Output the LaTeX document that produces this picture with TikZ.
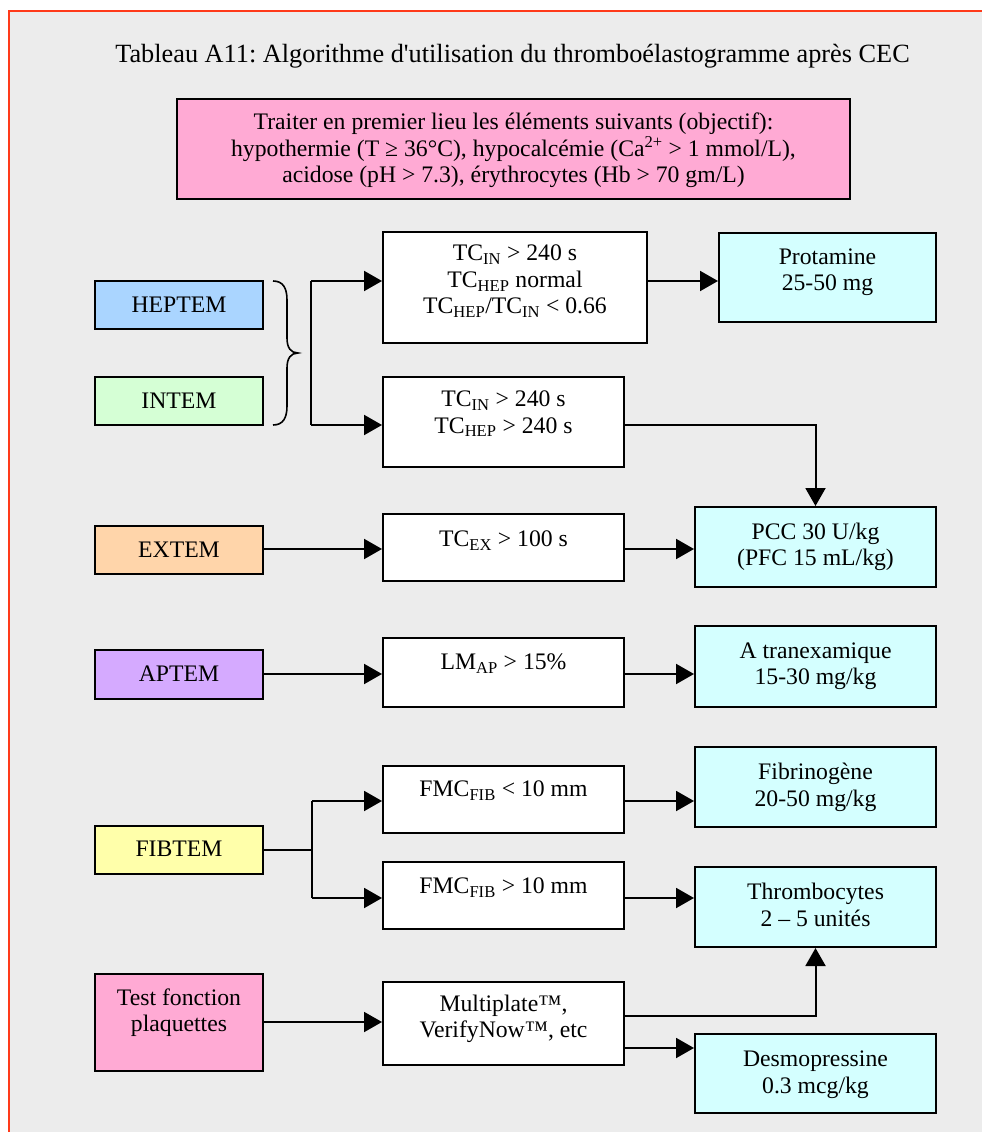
\documentclass[tikz,border=0pt]{standalone}
\usepackage{fontspec}
\setmainfont{Liberation Serif}
\usetikzlibrary{arrows.meta}
\definecolor{bggray}{HTML}{ECECEC}
\definecolor{framered}{HTML}{FF3A1A}
\definecolor{pinkbox}{HTML}{FFAAD4}
\definecolor{hepblue}{HTML}{AAD5FF}
\definecolor{intgreen}{HTML}{D5FFD5}
\definecolor{extorange}{HTML}{FFD5AA}
\definecolor{aptpurple}{HTML}{D5AAFF}
\definecolor{fibyellow}{HTML}{FFFFAA}
\definecolor{rescyan}{HTML}{D4FFFF}
\frenchspacing
\begin{document}
\begin{tikzpicture}[x=1pt,y=-1pt,
  box/.style={draw=black, line width=2pt, inner sep=0pt, rectangle},
  txt/.style={font=\fontsize{23.7}{26.5}\selectfont, align=center, inner sep=0pt,
    execute at begin node=\strut, execute at end node=\strut},
  ttl/.style={font=\fontsize{26.3}{29}\selectfont, align=center, inner sep=0pt,
    execute at begin node=\strut, execute at end node=\strut},
  conn/.style={line width=2pt},
  arr/.style={line width=2pt, -{Triangle[length=18pt,width=20pt]}}]
\useasboundingbox (0,0) rectangle (982,1132);
\fill[white] (0,0) rectangle (982,1132);
\fill[bggray] (9,11) rectangle (982,1132);
\draw[framered, line width=2pt] (9,1132) -- (9,11) -- (982,11);

% title
\node[ttl] (title) at (512.5,57) {Tableau A11: Algorithme d\textquotesingle utilisation du thromboélastogramme après CEC};

% top pink box
\node[box, fill=pinkbox, minimum width=673pt, minimum height=100pt] (pre) at (513.5,149) {};
\node[txt] (pret) at (513.5,152) {Traiter en premier lieu les éléments suivants (objectif):\\hypothermie (T ≥ 36°C), hypocalcémie (Ca\textsuperscript{2+} > 1 mmol/L),\\acidose (pH > 7.3), érythrocytes (Hb > 70 gm/L)};

% left test boxes
\node[box, fill=hepblue, minimum width=168pt, minimum height=48pt] (hep) at (179,305) {};
\node[txt] (hept) at (179,307.5) {HEPTEM};
\node[box, fill=intgreen, minimum width=168pt, minimum height=48pt] (int) at (179,401) {};
\node[txt] (intt) at (179,403.5) {INTEM};
\node[box, fill=extorange, minimum width=168pt, minimum height=48pt] (ext) at (179,550) {};
\node[txt] (extt) at (179,552) {EXTEM};
\node[box, fill=aptpurple, minimum width=168pt, minimum height=49pt] (apt) at (179,674.5) {};
\node[txt] (aptt) at (179,676) {APTEM};
\node[box, fill=fibyellow, minimum width=168pt, minimum height=48pt] (fib) at (179,850) {};
\node[txt] (fibt) at (179,851.5) {FIBTEM};
\node[box, fill=pinkbox, minimum width=168pt, minimum height=97pt] (tst) at (179,1022.5) {};
\node[txt] (tstt) at (179,1014) {Test fonction\\plaquettes};

% brace
\draw[line width=1.6pt] (273,281) .. controls (283,281) and (287,288) .. (287,300) -- (287,338)
  .. controls (287,348) and (291,353) .. (298,353)
  .. controls (291,353) and (287,358) .. (287,368) -- (287,406)
  .. controls (287,418) and (283,425) .. (273,425);

% condition boxes
\node[box, fill=white, minimum width=264pt, minimum height=111pt] (c1) at (515,287.5) {};
\node[txt] (c1t) at (515,283.5) {TC\textsubscript{IN} > 240 s\\TC\textsubscript{HEP} normal\\TC\textsubscript{HEP}/TC\textsubscript{IN} < 0.66};
\node[box, fill=white, minimum width=241pt, minimum height=90pt] (c2) at (503.5,422) {};
\node[txt] (c2t) at (503.5,416) {TC\textsubscript{IN} > 240 s\\TC\textsubscript{HEP} > 240 s};
\node[box, fill=white, minimum width=241pt, minimum height=67pt] (cex) at (503.5,547.5) {};
\node[txt] (cext) at (503.5,541) {TC\textsubscript{EX} > 100 s};
\node[box, fill=white, minimum width=241pt, minimum height=69pt] (clm) at (503.5,672.5) {};
\node[txt] (clmt) at (503.5,664) {LM\textsubscript{AP} > 15\%};
\node[box, fill=white, minimum width=241pt, minimum height=67pt] (cf1) at (503.5,799.5) {};
\node[txt] (cf1t) at (503.5,791.5) {FMC\textsubscript{FIB} < 10 mm};
\node[box, fill=white, minimum width=241pt, minimum height=67pt] (cf2) at (503.5,895.5) {};
\node[txt] (cf2t) at (503.5,888.5) {FMC\textsubscript{FIB} > 10 mm};
\node[box, fill=white, minimum width=241pt, minimum height=83pt] (cmp) at (503.5,1023.5) {};
\node[txt] (cmpt) at (503.5,1020) {Multiplate™,\\VerifyNow™, etc};

% result boxes
\node[box, fill=rescyan, minimum width=217pt, minimum height=89pt] (prot) at (827.5,277.5) {};
\node[txt] (prott) at (827.5,273.5) {Protamine\\25-50 mg};
\node[box, fill=rescyan, minimum width=241pt, minimum height=80pt] (pcc) at (815.5,547) {};
\node[txt] (pcct) at (815.5,548) {PCC 30 U/kg\\(PFC 15 mL/kg)};
\node[box, fill=rescyan, minimum width=241pt, minimum height=81pt] (atr) at (815.5,666.5) {};
\node[txt] (atrt) at (815.5,667.5) {A tranexamique\\15-30 mg/kg};
\node[box, fill=rescyan, minimum width=241pt, minimum height=80pt] (fbg) at (815.5,787) {};
\node[txt] (fbgt) at (815.5,788.5) {Fibrinogène\\20-50 mg/kg};
\node[box, fill=rescyan, minimum width=241pt, minimum height=80pt] (thr) at (815.5,907) {};
\node[txt] (thrt) at (815.5,908.5) {Thrombocytes\\2 – 5 unités};
\node[box, fill=rescyan, minimum width=241pt, minimum height=79pt] (dsm) at (815.5,1073.5) {};
\node[txt] (dsmt) at (815.5,1076) {Desmopressine\\0.3 mcg/kg};

% junction coordinates
\coordinate (j1) at (311,281);
\coordinate (j2) at (311,425);
\coordinate (j3) at (312,801);
\coordinate (j4) at (312,898);
\coordinate (j5) at (312,850);

% connectors
\draw[conn] (j1) -- (j2);
\draw[arr] (j1) -- (c1.west |- j1);
\draw[arr] (j2) -- (c2.west |- j2);
\draw[arr] (c1.east |- j1) -- (prot.west |- j1);
\draw[arr] (c2.east |- j2) -| (pcc.north);
\draw[arr] (ext.east |- 0,549) -- (cex.west |- 0,549);
\draw[arr] (cex.east |- 0,549) -- (pcc.west |- 0,549);
\draw[arr] (apt.east |- 0,674) -- (clm.west |- 0,674);
\draw[arr] (clm.east |- 0,674) -- (atr.west |- 0,674);
\draw[conn] (fib.east |- j5) -- (j5);
\draw[conn] (j3) -- (j4);
\draw[arr] (j3) -- (cf1.west |- j3);
\draw[arr] (j4) -- (cf2.west |- j4);
\draw[arr] (cf1.east |- j3) -- (fbg.west |- j3);
\draw[arr] (cf2.east |- j4) -- (thr.west |- j4);
\draw[arr] (tst.east |- 0,1022) -- (cmp.west |- 0,1022);
\draw[arr] (cmp.east |- 0,1016) -| (thr.south);
\draw[arr] (cmp.east |- 0,1048) -- (dsm.west |- 0,1048);
\end{tikzpicture}
\end{document}
